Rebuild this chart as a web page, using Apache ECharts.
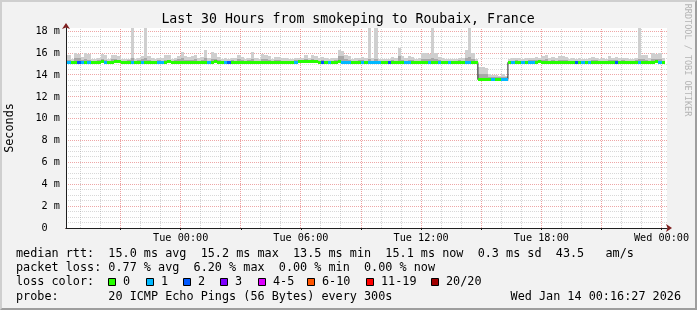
<!DOCTYPE html>
<html><head><meta charset="utf-8">
<script src="https://cdn.jsdelivr.net/npm/echarts@6/dist/echarts.min.js"></script>
<style>
html,body{margin:0;padding:0;background:#f2f2f2;}
#canvasBg{position:absolute;left:66px;top:28px;width:601px;height:200px;background:#ffffff;}
#chart{position:absolute;left:0;top:0;width:697px;height:310px;}
#frame{position:absolute;left:0;top:0;width:697px;height:310px;box-sizing:border-box;border-style:solid;border-width:2px;border-color:#cfcfcf #9e9e9e #9e9e9e #cfcfcf;pointer-events:none;}
</style></head><body>
<div id="canvasBg"></div><div id="chart"></div><div id="frame"></div>
<script>
// ---- time frame (hours relative to Tue 00:00) ----
const X_MIN = -5.7258;          // Mon 18:16:27
const X_MAX = 24.2742;          // Wed 00:16:27
const T0 = -5.6667;             // first sample
const STEP = 1 / 6;             // 10 minute samples
const Y_MAX = 18.3;

const title = 'Last 30 Hours from smokeping to Roubaix, France';
const xTickValues = [0, 6, 12, 18, 24];
const xTickLabels = ['Tue 00:00', 'Tue 06:00', 'Tue 12:00', 'Tue 18:00', 'Wed 00:00'];
const yTickValues = [0, 2, 4, 6, 8, 10, 12, 14, 16, 18];
const yTickLabels = ['0  ', '2 m', '4 m', '6 m', '8 m', '10 m', '12 m', '14 m', '16 m', '18 m'];
const xMinorHours = [-5, -4, -2, -1, 1, 2, 4, 5, 7, 8, 10, 11, 13, 14, 16, 17, 19, 20, 22, 23];
const xMajorHours = [-3, 0, 3, 6, 9, 12, 15, 18, 21, 24];
const yMinorValues = [0.5, 1, 1.5, 2.5, 3, 3.5, 4.5, 5, 5.5, 6.5, 7, 7.5, 8.5, 9, 9.5, 10.5, 11, 11.5, 12.5, 13, 13.5, 14.5, 15, 15.5, 16.5, 17, 17.5];
const yMajorValues = [2, 4, 6, 8, 10, 12, 14, 16, 18];

// median rtt (ms)
const median = [
 15.15,15.15,15.15,15.15,15.15,15.15,15.15,15.15,15.15,15.15,
 15.25,15.15,15.15,15.15,15.25,15.25,15.15,15.15,15.15,15.15,
 15.15,15.15,15.15,15.15,15.15,15.15,15.15,15.15,15.15,15.15,
 15.25,15.15,15.15,15.15,15.15,15.15,15.15,15.15,15.15,15.15,
 15.15,15.15,15.15,15.15,15.25,15.15,15.15,15.15,15.15,15.15,
 15.15,15.15,15.15,15.15,15.15,15.15,15.15,15.15,15.15,15.15,
 15.15,15.15,15.15,15.15,15.15,15.15,15.15,15.15,15.15,15.28,
 15.28,15.28,15.28,15.28,15.28,15.15,15.15,15.15,15.15,15.15,
 15.15,15.25,15.15,15.15,15.15,15.15,15.15,15.15,15.15,15.15,
 15.15,15.15,15.15,15.15,15.15,15.15,15.15,15.15,15.15,15.15,
 15.15,15.15,15.15,15.15,15.15,15.15,15.15,15.15,15.15,15.15,
 15.15,15.15,15.15,15.15,15.15,15.15,15.15,15.15,15.15,15.15,
 15.15,15.15,15.15,13.58,13.58,13.58,13.58,13.58,13.58,13.58,
 13.58,13.58,15.15,15.15,15.15,15.15,15.15,15.15,15.15,15.15,
 15.15,15.25,15.15,15.15,15.15,15.15,15.15,15.15,15.15,15.15,
 15.15,15.15,15.15,15.15,15.15,15.15,15.15,15.15,15.15,15.15,
 15.15,15.15,15.15,15.15,15.15,15.15,15.15,15.15,15.15,15.15,
 15.15,15.15,15.15,15.15,15.15,15.15,15.22,15.15,15.15
];
// lost pings out of 20
const loss = [
 1,0,0,2,1,0,1,0,0,0,
 0,1,0,0,0,0,0,0,0,1,
 0,0,1,0,0,0,0,1,1,0,
 0,0,0,0,0,0,0,0,0,0,
 0,0,1,0,0,0,0,1,2,0,
 0,0,0,0,0,0,0,0,0,0,
 0,0,0,0,0,0,0,0,1,0,
 0,0,0,0,0,0,2,0,1,0,
 0,0,1,1,1,0,0,0,1,0,
 1,1,1,1,0,0,2,0,0,0,
 0,1,1,0,0,0,0,0,1,0,
 0,1,0,0,1,0,0,0,0,1,
 1,0,0,0,0,0,0,1,0,0,
 1,1,0,1,0,0,1,0,1,1,
 0,0,0,0,0,0,0,0,0,0,
 0,0,2,0,1,0,1,0,0,0,
 0,0,0,0,2,0,0,0,0,0,
 0,1,0,0,0,0,0,1,0
];
// top of the light smoke (slowest pings)
const smokeTop = [
 15.8,15.5,16.05,15.9,15.65,16.0,15.9,15.5,15.45,15.6,
 15.9,15.85,15.5,15.8,15.85,15.75,15.5,15.45,15.5,18.3,
 15.5,15.55,15.7,18.3,15.7,15.6,15.5,15.55,15.6,15.8,
 15.8,15.5,15.6,15.75,16.1,15.7,15.65,15.7,15.85,15.6,
 15.65,16.3,15.6,16.1,16.0,15.65,15.5,15.6,15.5,15.55,
 15.6,15.85,15.65,15.5,15.6,16.1,15.6,15.5,15.9,15.85,
 15.75,15.5,15.65,15.65,15.6,15.6,15.5,15.45,15.6,15.55,
 15.6,15.8,15.6,15.8,15.75,15.6,15.65,15.6,15.5,15.55,
 15.6,16.3,16.2,15.85,15.75,15.5,15.6,15.6,15.65,15.6,
 18.3,15.55,18.3,15.5,15.5,15.45,15.5,15.65,15.6,16.45,
 15.7,15.6,15.7,15.65,15.5,15.55,16.0,16.0,15.95,18.3,
 16.0,15.65,15.6,15.5,15.5,15.45,15.5,15.6,15.6,16.3,
 18.3,16.0,15.5,14.7,14.7,14.6,14.1,14.0,14.0,13.95,
 14.05,13.95,15.5,15.55,15.6,15.55,15.5,15.55,15.6,15.6,
 15.65,15.6,15.7,15.85,15.6,15.65,15.6,15.7,15.7,15.65,
 15.5,15.55,15.5,15.55,15.5,15.45,15.55,15.65,15.6,15.5,
 15.55,15.5,15.7,15.6,15.65,15.6,15.6,15.55,15.5,15.5,
 15.6,18.3,15.85,15.8,15.6,16.0,15.95,16.0,15.55
];
// top of the darker smoke band
const smokeMid = [
 15.35,15.3,15.6,15.6,15.35,15.45,15.4,15.3,15.3,15.35,
 15.45,15.4,15.3,15.45,15.45,15.4,15.3,15.3,15.35,15.6,
 15.3,15.35,15.45,15.6,15.35,15.3,15.3,15.35,15.3,15.4,
 15.4,15.3,15.35,15.45,15.55,15.4,15.35,15.4,15.45,15.3,
 15.35,15.6,15.3,15.5,15.45,15.35,15.3,15.3,15.3,15.35,
 15.3,15.45,15.35,15.3,15.35,15.5,15.3,15.3,15.5,15.5,
 15.4,15.3,15.35,15.35,15.3,15.3,15.3,15.3,15.35,15.3,
 15.35,15.45,15.35,15.45,15.4,15.3,15.35,15.3,15.3,15.3,
 15.35,15.75,15.75,15.5,15.4,15.3,15.3,15.35,15.35,15.3,
 15.5,15.3,15.5,15.3,15.3,15.3,15.3,15.35,15.3,15.75,
 15.4,15.3,15.4,15.35,15.3,15.3,15.45,15.45,15.45,15.55,
 15.45,15.35,15.3,15.3,15.3,15.3,15.3,15.35,15.3,15.6,
 15.65,15.5,15.3,14.1,14.1,14.1,13.85,13.85,13.85,13.85,
 13.85,13.85,15.3,15.3,15.35,15.3,15.3,15.3,15.35,15.35,
 15.35,15.3,15.4,15.45,15.3,15.35,15.3,15.4,15.4,15.35,
 15.3,15.3,15.3,15.3,15.3,15.3,15.3,15.35,15.35,15.3,
 15.3,15.3,15.4,15.35,15.35,15.3,15.35,15.3,15.3,15.3,
 15.35,15.5,15.45,15.4,15.3,15.5,15.5,15.5,15.3
];

const lossColors = ['#26ff00', '#00b8ff', '#0059ff', '#7e00ff', '#dd00ff', '#ff5500', '#ff0000', '#a10000'];
const lossLabels = ['0', '1', '2', '3', '4-5', '6-10', '11-19', '20/20'];
const legendRows = [
  'median rtt:  15.0 ms avg  15.2 ms max  13.5 ms min  15.1 ms now  0.3 ms sd  43.5   am/s',
  'packet loss: 0.77 % avg  6.20 % max  0.00 % min  0.00 % now',
  'loss color:',
  'probe:       20 ICMP Echo Pings (56 Bytes) every 300s'
];
const dateText = 'Wed Jan 14 00:16:27 2026';
const yLabel = 'Seconds';
const watermark = 'RRDTOOL / TOBI OETIKER';

// ---- helpers ----
function lossBucket(n) {
  if (n <= 3) return n;
  if (n <= 5) return 4;
  if (n <= 10) return 5;
  if (n <= 19) return 6;
  return 7;
}
const rows = median.map((m, i) => [T0 + i * STEP, m, smokeTop[i], smokeMid[i], loss[i]]);
const medianLine = rows.map(r => [r[0], r[1]]);
medianLine.push([T0 + median.length * STEP, median[median.length - 1]]);

const MONO = '"DejaVu Sans Mono", monospace';
const chart = echarts.init(document.getElementById('chart'), null, {renderer: 'canvas'});

function snap(v) { return Math.round(v) + 0.5; }

function vLines(values, color) {
  return {
    type: 'custom', z: 1, silent: true, animation: false,
    data: values.map(v => [v, 0]),
    renderItem: (params, api) => {
      const a = api.coord([api.value(0), 0]);
      const b = api.coord([api.value(0), Y_MAX]);
      const x = snap(a[0] - 0.5);
      return {type: 'line', shape: {x1: x, y1: a[1], x2: x, y2: b[1]},
        style: {stroke: color, lineWidth: 1, lineDash: [1, 1]}};
    }
  };
}
function hLines(values, color) {
  return {
    type: 'custom', z: 1, silent: true, animation: false,
    data: values.map(v => [X_MIN, v]),
    renderItem: (params, api) => {
      const a = api.coord([X_MIN, api.value(1)]);
      const b = api.coord([X_MAX, api.value(1)]);
      const y = snap(a[1] - 0.5);
      return {type: 'line', shape: {x1: a[0], y1: y, x2: b[0], y2: y},
        style: {stroke: color, lineWidth: 1, lineDash: [1, 1]}};
    }
  };
}
function smoke(dim, color, z) {
  return {
    type: 'custom', z: z, silent: true, animation: false,
    data: rows,
    renderItem: (params, api) => {
      const t = api.value(0), lo = api.value(1), hi = api.value(dim);
      if (!(hi > lo)) return null;
      const a = api.coord([t, hi]), b = api.coord([t + STEP, lo]);
      const cs = params.coordSys;
      const x0 = Math.round(a[0]), x1 = Math.round(b[0]);
      const shape = echarts.graphic.clipRectByRect(
        {x: x0, y: Math.round(a[1]), width: x1 - x0, height: Math.round(b[1]) - Math.round(a[1])},
        {x: cs.x, y: cs.y, width: cs.width, height: cs.height});
      return shape ? {type: 'rect', shape: shape, style: {fill: color}} : null;
    }
  };
}

const graphics = [
  {type: 'text', x: 348, y: 19.5, style: {text: title, font: '13.2px ' + MONO, fill: '#000', align: 'center', verticalAlign: 'middle'}},
  {type: 'text', x: 10, y: 128, rotation: Math.PI / 2, style: {text: yLabel, font: '11.8px ' + MONO, fill: '#000', align: 'center', verticalAlign: 'middle'}},
  {type: 'text', x: 687, y: 60, rotation: -Math.PI / 2, style: {text: watermark, font: '8.5px ' + MONO, fill: '#b4b4b4', align: 'center', verticalAlign: 'middle'}},
  {type: 'text', x: 681, y: 297, style: {text: dateText, font: '11.8px ' + MONO, fill: '#000', align: 'right', verticalAlign: 'middle'}}
];
const rowY = [253.5, 268.3, 282.2, 297];
legendRows.forEach((t, k) => graphics.push(
  {type: 'text', x: 16, y: rowY[k], style: {text: t, font: '11.8px ' + MONO, fill: '#000', align: 'left', verticalAlign: 'middle'}}));
const boxX = [108, 146, 183, 220, 258, 307, 366, 431];
lossLabels.forEach((lab, k) => {
  graphics.push({type: 'rect', shape: {x: boxX[k] + 0.5, y: 278.5, width: 7, height: 7},
    style: {fill: lossColors[k], stroke: '#000', lineWidth: 1}});
  graphics.push({type: 'text', x: boxX[k] + 15, y: rowY[2], style: {text: lab, font: '11.8px ' + MONO, fill: '#000', align: 'left', verticalAlign: 'middle'}});
});

const axisFont = {fontFamily: MONO, fontSize: 10.2, color: '#000'};
chart.setOption({
  animation: false,
  backgroundColor: 'transparent',
  grid: {left: 66, right: 30, top: 28, bottom: 82, containLabel: false, show: false},
  xAxis: [
    {type: 'value', position: 'bottom', min: X_MIN, max: X_MAX, z: 6,
      axisLine: {show: true, onZero: false, lineStyle: {color: '#1f1f1f', width: 1}},
      axisTick: {show: true, customValues: xMajorHours, length: 2, lineStyle: {color: '#1f1f1f'}},
      axisLabel: Object.assign({customValues: xTickValues, margin: 5,
        formatter: v => xTickLabels[xTickValues.indexOf(v)] || ''}, axisFont),
      splitLine: {show: false}},
    {type: 'value', position: 'bottom', offset: 0, min: X_MIN, max: X_MAX, z: 5,
      axisLine: {show: true, onZero: false, symbol: ['none', 'arrow'], symbolSize: [6, 6], symbolOffset: [0, 5], lineStyle: {color: '#7f1f1f', width: 1}},
      axisTick: {show: false}, axisLabel: {show: false}, splitLine: {show: false}}
  ],
  yAxis: [
    {type: 'value', position: 'left', min: 0, max: Y_MAX, z: 6,
      axisLine: {show: true, onZero: false, lineStyle: {color: '#1f1f1f', width: 1}},
      axisTick: {show: false},
      axisLabel: Object.assign({customValues: yTickValues, margin: 6,
        formatter: v => yTickLabels[yTickValues.indexOf(v)] || ''}, axisFont),
      splitLine: {show: false}},
    {type: 'value', position: 'left', offset: 0, min: 0, max: Y_MAX, z: 5,
      axisLine: {show: true, onZero: false, symbol: ['none', 'arrow'], symbolSize: [6, 6], symbolOffset: [0, 5], lineStyle: {color: '#7f1f1f', width: 1}},
      axisTick: {show: false}, axisLabel: {show: false}, splitLine: {show: false}}
  ],
  graphic: graphics,
  series: [
    vLines(xMinorHours, 'rgba(143,143,143,0.4)'),
    hLines(yMinorValues, 'rgba(143,143,143,0.35)'),
    vLines(xMajorHours, 'rgba(222,79,79,0.55)'),
    hLines(yMajorValues, 'rgba(222,79,79,0.5)'),
    smoke(2, '#cfcfcf', 2),
    smoke(3, '#a8a8a8', 3),
    {type: 'line', z: 4, data: medianLine, step: 'end', symbol: 'none', silent: true,
      lineStyle: {color: '#1f1f1f', width: 1}},
    {type: 'custom', z: 5, silent: true, data: rows,
      renderItem: (params, api) => {
        const t = api.value(0), m = api.value(1);
        const a = api.coord([t, m]), b = api.coord([t + STEP, m]);
        const x0 = Math.round(a[0]), x1 = Math.round(b[0]);
        const y0 = Math.round(a[1] - 1.5);
        return {type: 'rect', shape: {x: x0, y: y0, width: x1 - x0, height: 3},
          style: {fill: lossColors[lossBucket(api.value(4))]}};
      }}
  ]
});
</script></body></html>
